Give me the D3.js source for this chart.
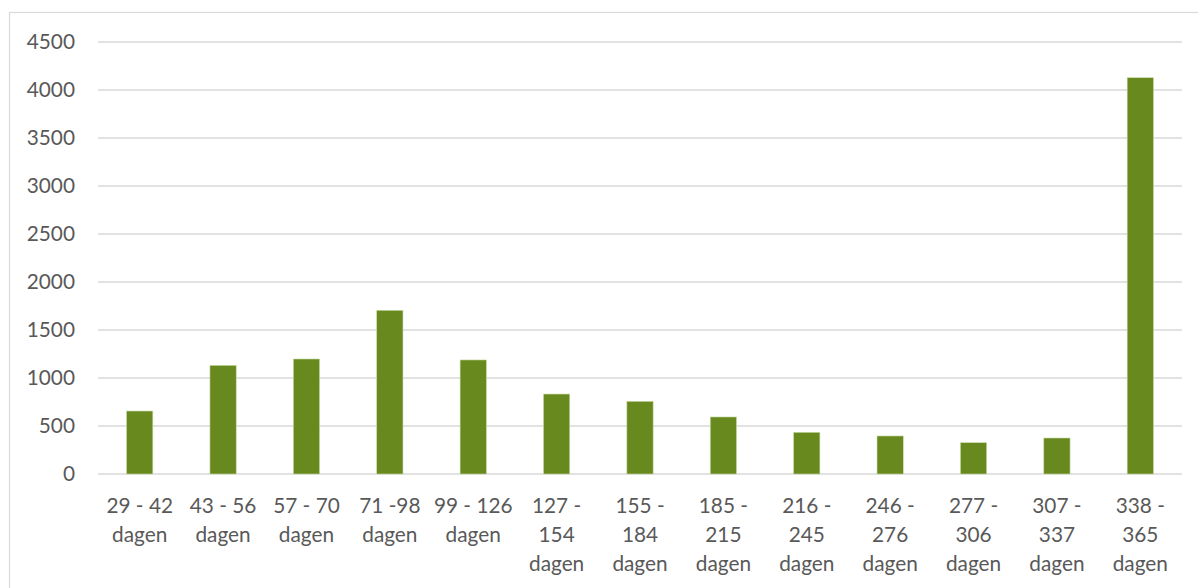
<!DOCTYPE html>
<html>
<head>
<meta charset="utf-8">
<script src="https://cdn.jsdelivr.net/npm/d3@7/dist/d3.min.js"></script>
<style>
  html, body { margin: 0; padding: 0; background: #fff; }
  svg { display: block; }
  text { font-family: Lato, "Open Sans", sans-serif; fill: #595959; }
</style>
</head>
<body>
<svg id="chart" width="1198" height="588"></svg>
<script>
// Aantal per duurklasse
const categories = [
  "29 - 42 dagen", "43 - 56 dagen", "57 - 70 dagen", "71 -98 dagen",
  "99 - 126 dagen", "127 - 154 dagen", "155 - 184 dagen", "185 - 215 dagen",
  "216 - 245 dagen", "246 - 276 dagen", "277 - 306 dagen", "307 - 337 dagen",
  "338 - 365 dagen"
];
const values = [656, 1132, 1198, 1705, 1188, 833, 757, 594, 434, 396, 326, 375, 4128];
const yTicks = [0, 500, 1000, 1500, 2000, 2500, 3000, 3500, 4000, 4500];

const svg = d3.select("#chart");
const W = 1198, H = 588;
const plot = { left: 98, right: 1182, top: 42, bottom: 474 };
const FONT = "Lato, 'Open Sans', sans-serif";
const FS = "20.8px";

// chart frame
svg.append("rect")
  .attr("x", 9.5).attr("y", 12.5)
  .attr("width", W + 10).attr("height", H + 10)
  .attr("fill", "none").attr("stroke", "#d9d9d9").attr("stroke-width", 1.2);

const x = d3.scaleBand()
  .domain(categories)
  .range([plot.left, plot.right])
  .paddingInner(0.685).paddingOuter(0.3425);

const y = d3.scaleLinear()
  .domain([0, 4500])
  .range([plot.bottom, plot.top]);

// horizontal gridlines
svg.append("g")
  .selectAll("line")
  .data(yTicks)
  .join("line")
  .attr("x1", plot.left).attr("x2", plot.right)
  .attr("y1", d => y(d)).attr("y2", d => y(d))
  .attr("stroke", "#d9d9d9").attr("stroke-width", 1.3);

// y-axis labels
const yAxis = d3.axisLeft(y).tickValues(yTicks).tickFormat(d3.format("d"))
  .tickSize(0).tickPadding(0);
svg.append("g")
  .attr("transform", `translate(${plot.left - 23},0)`)
  .call(yAxis)
  .call(g => g.select(".domain").remove())
  .call(g => g.selectAll("text")
    .attr("font-size", FS)
    .attr("fill", "#595959")
    .style("font-family", FONT));

// bars
svg.append("g")
  .selectAll("rect")
  .data(values)
  .join("rect")
  .attr("x", (d, i) => x(categories[i]))
  .attr("width", x.bandwidth())
  .attr("y", d => y(d))
  .attr("height", d => y(0) - y(d))
  .attr("fill", "#67891e")
  .attr("stroke", "#c9dba8").attr("stroke-width", 0.6);

// x-axis category labels, wrapped to the band width
const xAxis = d3.axisBottom(x).tickSize(0).tickPadding(0);
const xg = svg.append("g")
  .attr("transform", `translate(0,${plot.bottom})`)
  .call(xAxis)
  .call(g => g.select(".domain").remove());

const maxW = x.step() - 3;
xg.selectAll("text").each(function(label) {
  const t = d3.select(this);
  t.text(null)
    .attr("font-size", FS)
    .attr("fill", "#595959")
    .attr("y", 0)
    .attr("dy", null)
    .style("font-family", FONT);
  const words = label.split(" ");
  const lines = [];
  let cur = [];
  const probe = t.append("tspan");
  words.forEach(w => {
    const trial = cur.concat([w]).join(" ");
    probe.text(trial);
    if (cur.length && probe.node().getComputedTextLength() > maxW) {
      lines.push(cur.join(" "));
      cur = [w];
    } else {
      cur.push(w);
    }
  });
  lines.push(cur.join(" "));
  probe.remove();
  lines.forEach((ln, i) => {
    t.append("tspan")
      .attr("x", 0)
      .attr("y", 39 + i * 29)
      .text(ln);
  });
});
</script>
</body>
</html>
